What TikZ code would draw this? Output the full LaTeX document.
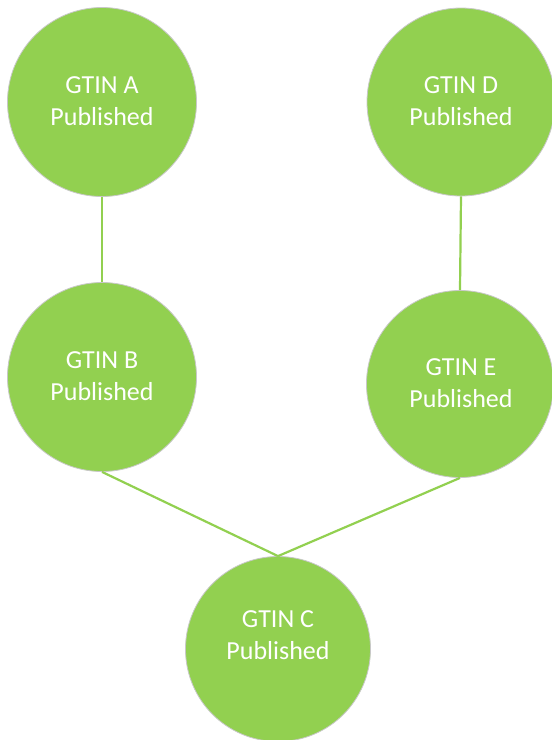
\documentclass[tikz,border=0pt]{standalone}
\usepackage{fontspec}
\setmainfont{Carlito}
\definecolor{lgreen}{HTML}{92D050}
\definecolor{rimgray}{HTML}{C8C8C8}
\begin{document}
\begin{tikzpicture}[x=1pt,y=-1pt,
  disc/.style={circle,fill=lgreen,draw=rimgray,line width=0.8pt,inner sep=0pt,minimum size=#1},
  lbl/.style={text=white,align=center,font=\fontsize{26}{32}\selectfont,inner sep=0pt},
  link/.style={draw=lgreen,line width=2.2pt}]
\useasboundingbox (0,0) rectangle (552,740);
\node[disc=189pt] (A) at (102,102) {};
\node[disc=188pt] (D) at (461,102) {};
\node[disc=189pt] (B) at (102,377) {};
\node[disc=187pt] (E) at (460,384) {};
\node[disc=185pt] (C) at (278,649) {};
\draw[link] (A.south) -- (B.north);
\draw[link] (D.south) -- (E.north);
\draw[link] (B.south) -- (C.north);
\draw[link] (E.south) -- (C.north);
\node[lbl] (At) at (102,101.5) {GTIN A\\Published};
\node[lbl] (Dt) at (461,101.5) {GTIN D\\Published};
\node[lbl] (Bt) at (102,376.5) {GTIN B\\Published};
\node[lbl] (Et) at (461,383.5) {GTIN E\\Published};
\node[lbl] (Ct) at (278,635.5) {GTIN C\\Published};
\end{tikzpicture}
\end{document}
